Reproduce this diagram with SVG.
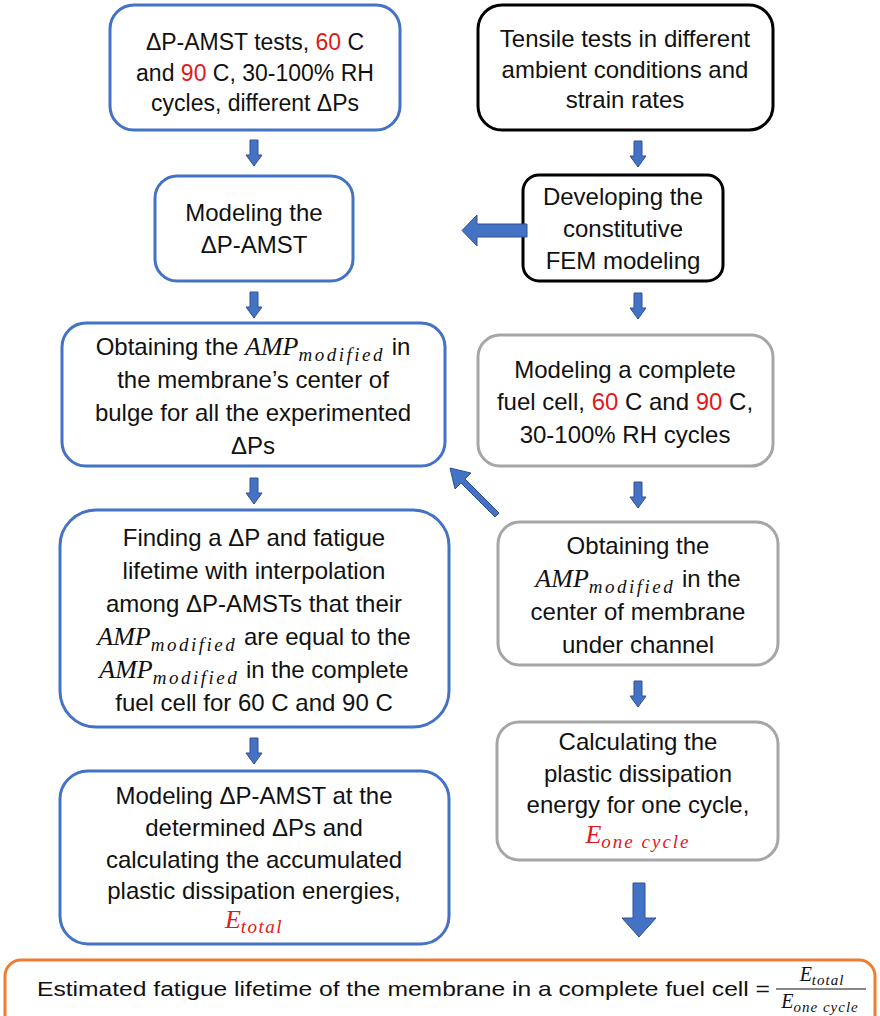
<svg xmlns="http://www.w3.org/2000/svg" width="880" height="1016" viewBox="0 0 880 1016">
  <style>
    .box { fill: #ffffff; stroke-width: 3; }
    .blue { stroke: #4472C4; }
    .dark { stroke: #000000; }
    .grey { stroke: #A6A6A6; }
    .orange { stroke: #ED7D31; }
    .t { font-family: "Liberation Sans", Arial, sans-serif; font-size: 24px; fill: #111; text-anchor: middle; }
    .t23 { font-size: 23px; }
    .r { fill: #E01A1C; }
    .m { font-family: "Liberation Serif", "Times New Roman", serif; font-style: italic; font-size: 26px; }
    .ms { font-family: "Liberation Serif", "Times New Roman", serif; font-style: italic; font-size: 19px; letter-spacing: 2.5px; }
    .arrow { fill: #4472C4; stroke: #2F528F; stroke-width: 1; }
  </style>

  <!-- process boxes -->
  <g id="amst-tests">
    <rect class="box blue" x="110" y="5" width="290" height="125" rx="24"/>
    <text class="t t23" x="255" y="50">ΔP-AMST tests, <tspan class="r">60</tspan> C</text>
    <text class="t t23" x="255" y="81">and <tspan class="r">90</tspan> C, 30-100% RH</text>
    <text class="t t23" x="255" y="111">cycles, different ΔPs</text>
  </g>

  <g id="tensile-tests">
    <rect class="box dark" x="478" y="5" width="295" height="125" rx="24"/>
    <text class="t" x="625" y="47">Tensile tests in different</text>
    <text class="t" x="625" y="78">ambient conditions and</text>
    <text class="t" x="625" y="108">strain rates</text>
  </g>

  <g id="modeling-amst">
    <rect class="box blue" x="155" y="176" width="198" height="105" rx="22"/>
    <text class="t" x="254" y="221">Modeling the</text>
    <text class="t" x="254" y="253">ΔP-AMST</text>
  </g>

  <g id="constitutive-fem">
    <rect class="box dark" x="523" y="175" width="200" height="106" rx="16"/>
    <text class="t" x="623" y="205">Developing the</text>
    <text class="t" x="623" y="237">constitutive</text>
    <text class="t" x="623" y="269">FEM modeling</text>
  </g>

  <g id="amp-bulge">
    <rect class="box blue" x="62" y="323" width="383" height="143" rx="24"/>
    <text class="t" x="253" y="355">Obtaining the <tspan class="m">AMP</tspan><tspan class="ms" dy="6">modified</tspan><tspan dy="-6"> in</tspan></text>
    <text class="t" x="253" y="388">the membrane’s center of</text>
    <text class="t" x="253" y="421">bulge for all the experimented</text>
    <text class="t" x="253" y="454">ΔPs</text>
  </g>

  <g id="fuel-cell-model">
    <rect class="box grey" x="478" y="335" width="295" height="131" rx="22"/>
    <text class="t" x="625" y="378">Modeling a complete</text>
    <text class="t" x="625" y="410">fuel cell, <tspan class="r">60</tspan> C and <tspan class="r">90</tspan> C,</text>
    <text class="t" x="625" y="443">30-100% RH cycles</text>
  </g>

  <g id="interpolation">
    <rect class="box blue" x="60" y="510" width="389" height="217" rx="36"/>
    <text class="t" x="254" y="546">Finding a ΔP and fatigue</text>
    <text class="t" x="254" y="579">lifetime with interpolation</text>
    <text class="t" x="254" y="612">among ΔP-AMSTs that their</text>
    <text class="t" x="254" y="645"><tspan class="m">AMP</tspan><tspan class="ms" dy="6">modified</tspan><tspan dy="-6"> are equal to the</tspan></text>
    <text class="t" x="254" y="678"><tspan class="m">AMP</tspan><tspan class="ms" dy="6">modified</tspan><tspan dy="-6"> in the complete</tspan></text>
    <text class="t" x="254" y="711">fuel cell for 60 C and 90 C</text>
  </g>

  <g id="amp-channel">
    <rect class="box grey" x="498" y="522" width="280" height="143" rx="22"/>
    <text class="t" x="638" y="554">Obtaining the</text>
    <text class="t" x="638" y="587"><tspan class="m">AMP</tspan><tspan class="ms" dy="6">modified</tspan><tspan dy="-6"> in the</tspan></text>
    <text class="t" x="638" y="620">center of membrane</text>
    <text class="t" x="638" y="653">under channel</text>
  </g>

  <g id="accumulated-energy">
    <rect class="box blue" x="60" y="771" width="389" height="173" rx="28"/>
    <text class="t" x="254" y="804">Modeling ΔP-AMST at the</text>
    <text class="t" x="254" y="836">determined ΔPs and</text>
    <text class="t" x="254" y="868">calculating the accumulated</text>
    <text class="t" x="254" y="899">plastic dissipation energies,</text>
    <text class="t r" x="254" y="928"><tspan class="m">E</tspan><tspan class="ms" dy="5" style="letter-spacing:1.5px">total</tspan></text>
  </g>

  <g id="cycle-energy">
    <rect class="box grey" x="497" y="722" width="281" height="138" rx="22"/>
    <text class="t" x="638" y="750">Calculating the</text>
    <text class="t" x="638" y="782">plastic dissipation</text>
    <text class="t" x="638" y="813">energy for one cycle,</text>
    <text class="t r" x="638" y="843"><tspan class="m">E</tspan><tspan class="ms" dy="5" style="letter-spacing:2px">one cycle</tspan></text>
  </g>

  <g id="lifetime">
    <rect class="box orange" x="5" y="960" width="870" height="70" rx="16"/>
    <text x="37" y="996" font-family="Liberation Sans, Arial, sans-serif" font-size="21" fill="#111" textLength="733" lengthAdjust="spacingAndGlyphs">Estimated fatigue lifetime of the membrane in a complete fuel cell =</text>
    <text x="822" y="981" text-anchor="middle" font-family="Liberation Serif, Times New Roman, serif" font-style="italic" font-size="20" fill="#111">E<tspan font-size="15" dy="4" letter-spacing="1">total</tspan></text>
    <line x1="776" y1="989" x2="866" y2="989" stroke="#111" stroke-width="1.2"/>
    <text x="820" y="1008" text-anchor="middle" font-family="Liberation Serif, Times New Roman, serif" font-style="italic" font-size="20" fill="#111">E<tspan font-size="15" dy="4" letter-spacing="1">one cycle</tspan></text>
  </g>

  <!-- connectors -->
  <g id="connectors">
    <!-- small down arrows, left column -->
    <polygon class="arrow" points="250,140 258,140 258,155 262,155 254,166 246,155 250,155"/>
    <polygon class="arrow" points="250,292 258,292 258,307 262,307 254,318 246,307 250,307"/>
    <polygon class="arrow" points="250,478 258,478 258,493 262,493 254,504 246,493 250,493"/>
    <polygon class="arrow" points="250,738 258,738 258,753 262,753 254,764 246,753 250,753"/>
    <!-- small down arrows, right column -->
    <polygon class="arrow" points="634,141 642,141 642,156 646,156 638,167 630,156 634,156"/>
    <polygon class="arrow" points="634,293 642,293 642,308 646,308 638,319 630,308 634,308"/>
    <polygon class="arrow" points="634,482 642,482 642,497 646,497 638,508 630,497 634,497"/>
    <polygon class="arrow" points="634,681 642,681 642,696 646,696 638,707 630,696 634,696"/>
    <!-- left arrow from FEM modeling to AMST modeling -->
    <polygon class="arrow" points="527,224 477,224 477,215 462,230.5 477,246 477,237 527,237"/>
    <!-- diagonal arrow from channel AMP to bulge AMP -->
    <polygon class="arrow" points="499,513 465,479 471,473 450,468 455,489 461,483 495,517"/>
    <!-- large down arrow to lifetime estimate -->
    <polygon class="arrow" points="633,883 645,883 645,918 656,918 639,937 622,918 633,918"/>
  </g>
</svg>
